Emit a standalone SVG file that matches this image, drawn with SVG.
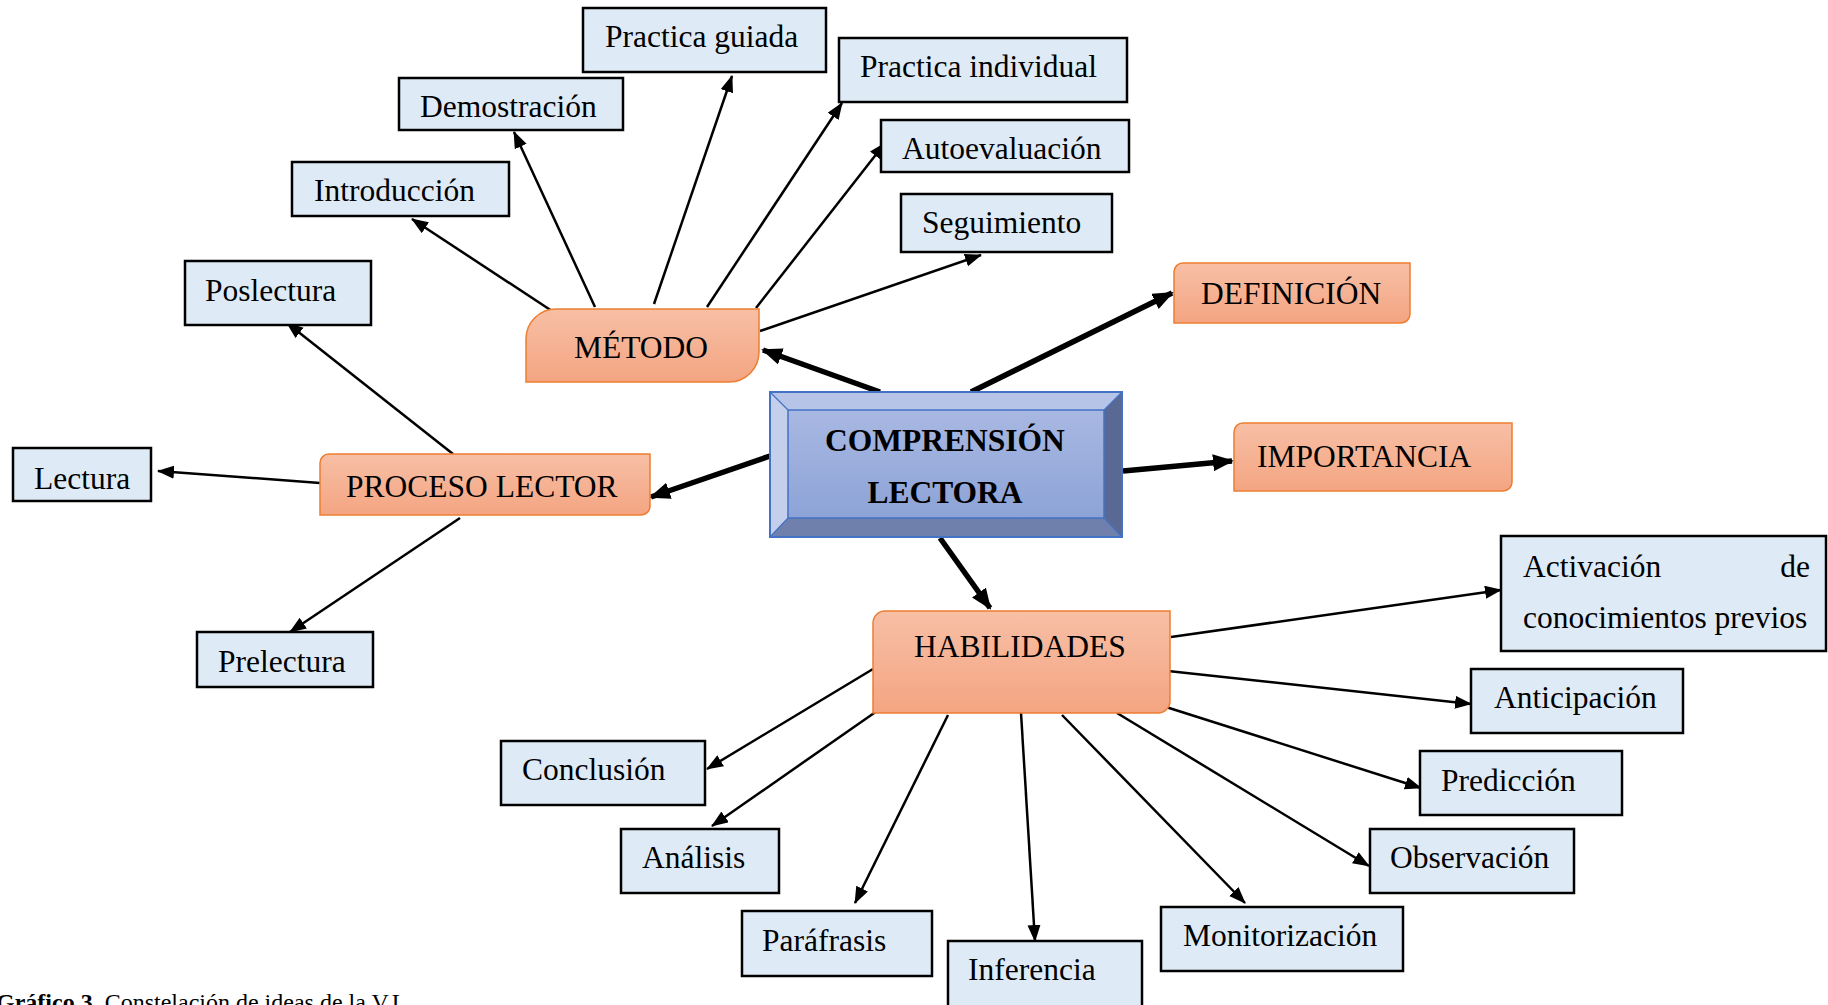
<svg xmlns="http://www.w3.org/2000/svg" width="1828" height="1005" viewBox="0 0 1828 1005">
<defs>
<linearGradient id="og" x1="0" y1="0" x2="0" y2="1">
<stop offset="0" stop-color="#f7bfa5"/>
<stop offset="1" stop-color="#f4a582"/>
</linearGradient>
<linearGradient id="cg" x1="0" y1="0" x2="0" y2="1">
<stop offset="0" stop-color="#a8b8e2"/>
<stop offset="1" stop-color="#8da3d7"/>
</linearGradient>
<marker id="ah" markerUnits="userSpaceOnUse" markerWidth="18" markerHeight="14" refX="16" refY="6.5" orient="auto">
<path d="M0,0 L17,6.5 L0,13 Z" fill="#000"/>
</marker>
<marker id="ahk" markerUnits="userSpaceOnUse" markerWidth="22" markerHeight="18" refX="19" refY="8.5" orient="auto">
<path d="M0,0 L21,8.5 L0,17 Z" fill="#000"/>
</marker>
<style>
.b{fill:#deebf7;stroke:#000;stroke-width:2.5}
.t{font-family:"Liberation Serif","Times New Roman",serif;font-size:31.5px;fill:#000}
.tb{font-family:"Liberation Serif","Times New Roman",serif;font-size:31.5px;font-weight:bold;fill:#000}
.o{fill:url(#og);stroke:#ed7d31;stroke-width:1.5}
.c{stroke:#000;stroke-width:2.5;fill:none;marker-end:url(#ah)}
.k{stroke:#000;stroke-width:5.5;fill:none;marker-end:url(#ahk)}
.cap{font-family:"Liberation Serif","Times New Roman",serif;font-size:24px;fill:#000}
</style>
</defs>
<rect width="1828" height="1005" fill="#fff"/>

<g id="connectors">
<line class="c" x1="555" y1="313" x2="412" y2="219"/>
<line class="c" x1="595" y1="307" x2="514" y2="132"/>
<line class="c" x1="654" y1="304" x2="732" y2="76"/>
<line class="c" x1="707" y1="307" x2="842" y2="103"/>
<line class="c" x1="756" y1="308" x2="885" y2="143"/>
<line class="c" x1="760" y1="331" x2="981" y2="255"/>
<line class="c" x1="453" y1="454" x2="287" y2="323"/>
<line class="c" x1="320" y1="483" x2="158" y2="471"/>
<line class="c" x1="460" y1="518" x2="290" y2="632"/>
<line class="c" x1="873" y1="669" x2="707" y2="769"/>
<line class="c" x1="877" y1="711" x2="712" y2="826"/>
<line class="c" x1="948" y1="715" x2="855" y2="903"/>
<line class="c" x1="1021" y1="713" x2="1035" y2="941"/>
<line class="c" x1="1062" y1="715" x2="1245" y2="903"/>
<line class="c" x1="1117" y1="713" x2="1369" y2="866"/>
<line class="c" x1="1166" y1="707" x2="1421" y2="788"/>
<line class="c" x1="1168" y1="671" x2="1471" y2="704"/>
<line class="c" x1="1171" y1="637" x2="1501" y2="590"/>
<line class="k" x1="880" y1="392" x2="763" y2="350"/>
<line class="k" x1="971" y1="392" x2="1172" y2="293"/>
<line class="k" x1="1123" y1="471" x2="1232" y2="461"/>
<line class="k" x1="770" y1="456" x2="651" y2="497"/>
<line class="k" x1="940" y1="538" x2="990" y2="608"/>
</g>

<g id="center">
<rect x="770" y="392" width="352" height="145" fill="url(#cg)"/>
<polygon points="770,392 1122,392 1104,410 788,410" fill="#b6c4e7"/>
<polygon points="770,392 788,410 788,518 770,537" fill="#c4cfec"/>
<polygon points="1122,392 1122,537 1104,518 1104,410" fill="#5a6993"/>
<polygon points="770,537 788,518 1104,518 1122,537" fill="#6f80ad"/>
<rect x="788" y="410" width="316" height="108" fill="url(#cg)" stroke="#4472c4" stroke-width="1.5"/>
<path d="M770,392 L788,410 M1122,392 L1104,410 M770,537 L788,518 M1122,537 L1104,518" stroke="#4472c4" stroke-width="1.2"/>
<rect x="770" y="392" width="352" height="145" fill="none" stroke="#4472c4" stroke-width="2"/>
<text class="tb" x="945" y="451" text-anchor="middle">COMPRENSIÓN</text>
<text class="tb" x="945" y="503" text-anchor="middle">LECTORA</text>
</g>

<g id="metodo">
<path class="o" d="M526,339 A30,30 0 0 1 556,309 L759,309 L759,352 A30,30 0 0 1 729,382 L526,382 Z"/>
<text class="t" x="641" y="358" text-anchor="middle">MÉTODO</text>
</g>
<g id="definicion">
<path class="o" d="M1174,272 A9,9 0 0 1 1183,263 L1410,263 L1410,314 A9,9 0 0 1 1401,323 L1174,323 Z"/>
<text class="t" x="1201" y="304">DEFINICIÓN</text>
</g>
<g id="importancia">
<path class="o" d="M1234,432 A9,9 0 0 1 1243,423 L1512,423 L1512,482 A9,9 0 0 1 1503,491 L1234,491 Z"/>
<text class="t" x="1257" y="467">IMPORTANCIA</text>
</g>
<g id="proceso">
<path class="o" d="M320,463 A9,9 0 0 1 329,454 L650,454 L650,506 A9,9 0 0 1 641,515 L320,515 Z"/>
<text class="t" x="346" y="497">PROCESO LECTOR</text>
</g>
<g id="habilidades">
<path class="o" d="M873,623 A12,12 0 0 1 885,611 L1170,611 L1170,701 A12,12 0 0 1 1158,713 L873,713 Z"/>
<text class="t" x="914" y="657">HABILIDADES</text>
</g>

<g id="practica-guiada"><rect class="b" x="583" y="8" width="243" height="64"/><text class="t" x="605" y="47">Practica guiada</text></g>
<g id="demostracion"><rect class="b" x="399" y="78" width="224" height="52"/><text class="t" x="420" y="117">Demostración</text></g>
<g id="introduccion"><rect class="b" x="292" y="162" width="217" height="54"/><text class="t" x="314" y="201">Introducción</text></g>
<g id="practica-individual"><rect class="b" x="839" y="38" width="288" height="64"/><text class="t" x="860" y="77">Practica individual</text></g>
<g id="autoevaluacion"><rect class="b" x="881" y="120" width="248" height="52"/><text class="t" x="902" y="159">Autoevaluación</text></g>
<g id="seguimiento"><rect class="b" x="901" y="194" width="211" height="58"/><text class="t" x="922" y="233">Seguimiento</text></g>
<g id="poslectura"><rect class="b" x="185" y="261" width="186" height="64"/><text class="t" x="205" y="301">Poslectura</text></g>
<g id="lectura"><rect class="b" x="13" y="448" width="138" height="53"/><text class="t" x="34" y="489">Lectura</text></g>
<g id="prelectura"><rect class="b" x="197" y="632" width="176" height="55"/><text class="t" x="218" y="672">Prelectura</text></g>
<g id="conclusion"><rect class="b" x="501" y="741" width="204" height="64"/><text class="t" x="522" y="780">Conclusión</text></g>
<g id="analisis"><rect class="b" x="621" y="829" width="158" height="64"/><text class="t" x="642" y="868">Análisis</text></g>
<g id="parafrasis"><rect class="b" x="742" y="911" width="190" height="65"/><text class="t" x="762" y="951">Paráfrasis</text></g>
<g id="inferencia"><rect class="b" x="948" y="941" width="194" height="66"/><text class="t" x="968" y="980">Inferencia</text></g>
<g id="monitorizacion"><rect class="b" x="1161" y="907" width="242" height="64"/><text class="t" x="1183" y="946">Monitorización</text></g>
<g id="observacion"><rect class="b" x="1370" y="829" width="204" height="64"/><text class="t" x="1390" y="868">Observación</text></g>
<g id="prediccion"><rect class="b" x="1420" y="751" width="202" height="64"/><text class="t" x="1441" y="791">Predicción</text></g>
<g id="anticipacion"><rect class="b" x="1471" y="669" width="212" height="64"/><text class="t" x="1494" y="708">Anticipación</text></g>
<g id="activacion"><rect class="b" x="1501" y="536" width="325" height="115"/>
<text class="t" x="1523" y="577">Activación</text>
<text class="t" x="1810" y="577" text-anchor="end">de</text>
<text class="t" x="1523" y="628">conocimientos previos</text></g>

<text class="cap" x="-4" y="1010"><tspan font-weight="bold">Gráfico 3.</tspan> Constelación de ideas de la V.L.</text>
</svg>
